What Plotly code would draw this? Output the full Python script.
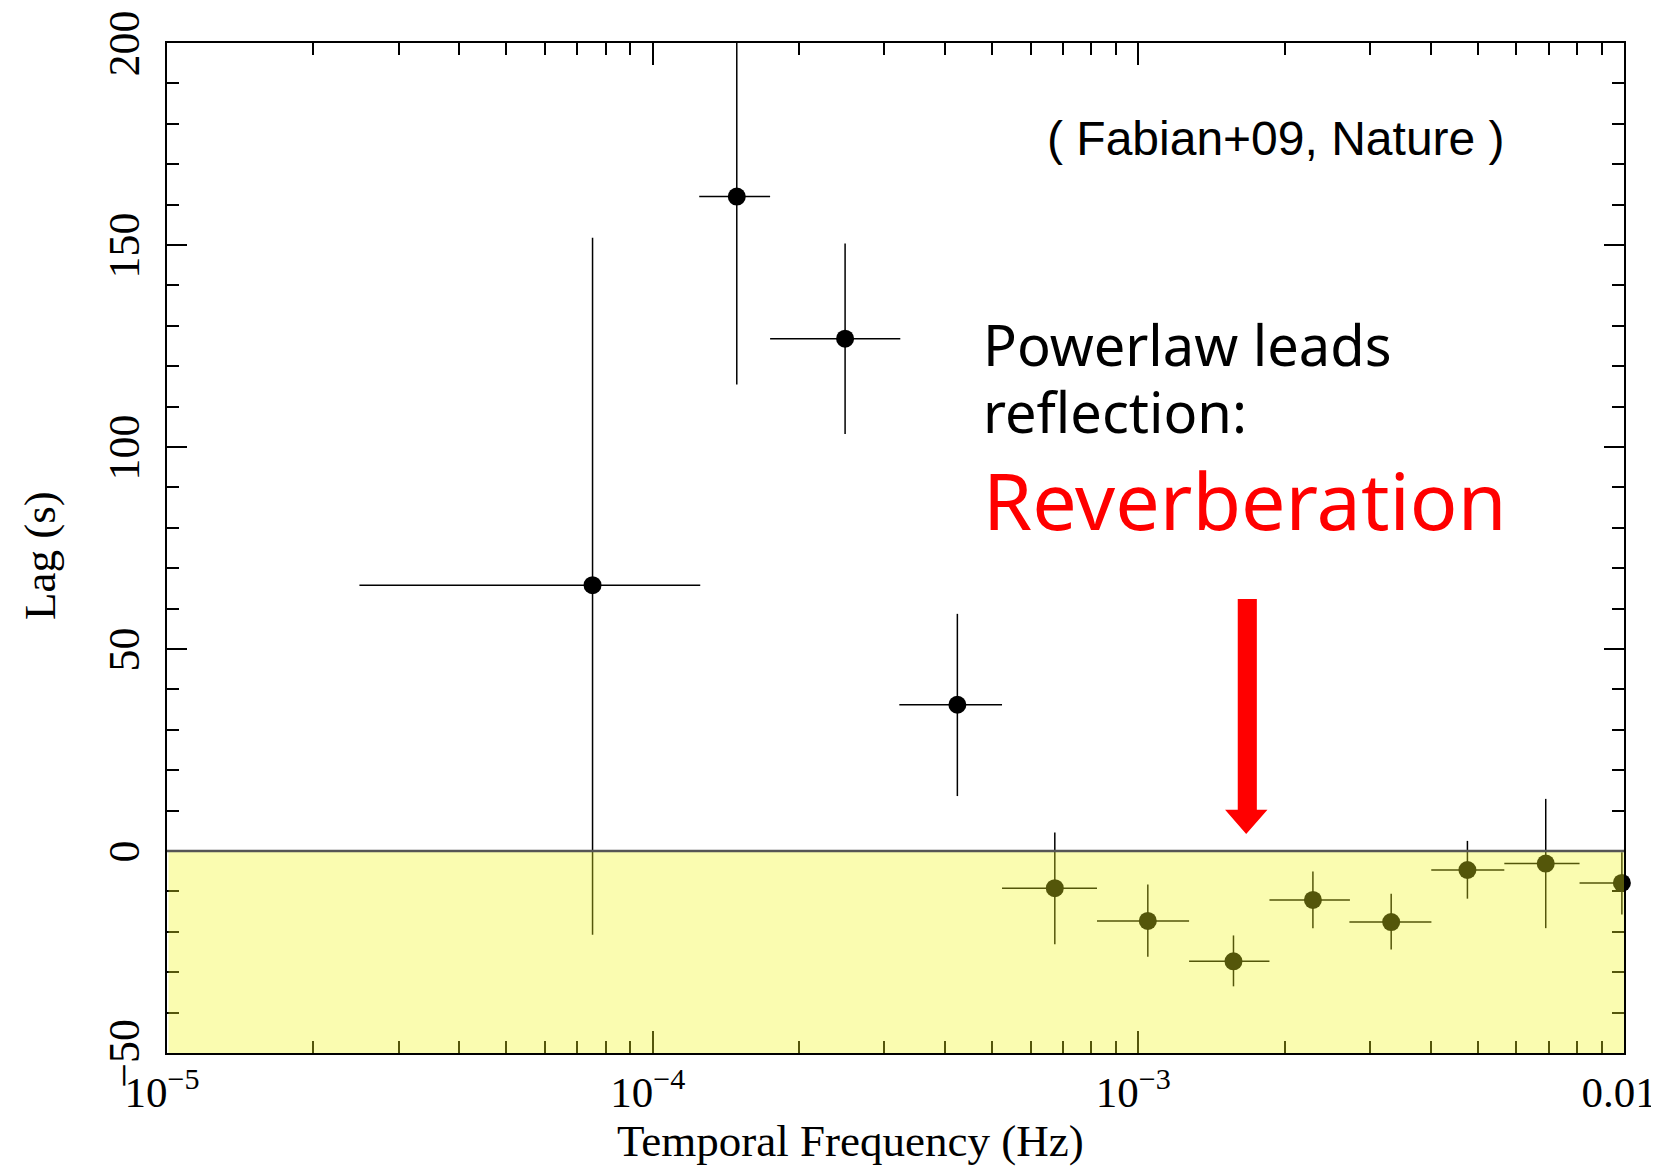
import plotly.graph_objects as go

# lag-frequency spectrum
freq = [7.52e-5, 1.49e-4, 2.49e-4, 4.24e-4, 6.73e-4, 1.046e-3, 1.57e-3,
        2.288e-3, 3.316e-3, 4.76e-3, 6.90e-3, 9.90e-3]
lag = [65.8, 162.0, 126.8, 36.2, -9.2, -17.3, -27.3, -12.1, -17.6, -4.7, -3.1, -7.9]
lag_err_plus = [86.0, 38.0, 23.6, 22.5, 13.8, 9.0, 6.4, 7.0, 7.0, 7.2, 16.0, 7.6]
lag_err_minus = [86.5, 46.5, 23.6, 22.6, 13.9, 8.9, 6.2, 7.0, 6.8, 7.1, 16.0, 7.8]
freq_lo = [2.49e-5, 1.247e-4, 1.745e-4, 3.22e-4, 5.24e-4, 8.22e-4, 1.272e-3,
           1.862e-3, 2.72e-3, 4.01e-3, 5.67e-3, 8.10e-3]
freq_hi = [1.253e-4, 1.745e-4, 3.235e-4, 5.24e-4, 8.22e-4, 1.272e-3, 1.862e-3,
           2.727e-3, 4.013e-3, 5.67e-3, 8.10e-3, 1.0e-2]

x_tickvals = [1e-5, 1e-4, 1e-3, 1e-2]
x_ticktext = ["10<sup>\u22125</sup>", "10<sup>\u22124</sup>", "10<sup>\u22123</sup>", "0.01"]
y_tickvals = [-50, 0, 50, 100, 150, 200]
y_ticktext = ["\u221250", "0", "50", "100", "150", "200"]

x_minor = [m * 10.0 ** e for e in (-5, -4, -3) for m in range(2, 10)]

serif = "Liberation Serif, Times New Roman, serif"
casual = "Comic Sans MS, Noto Sans"

fig = go.Figure()
fig.add_trace(go.Scatter(
    x=freq, y=lag, mode="markers",
    marker=dict(color="black", size=18),
    error_y=dict(type="data", symmetric=False, array=lag_err_plus,
                 arrayminus=lag_err_minus, color="black", thickness=1.5, width=0),
    error_x=dict(type="data", symmetric=False,
                 array=[h - f for h, f in zip(freq_hi, freq)],
                 arrayminus=[f - l for f, l in zip(freq, freq_lo)],
                 color="black", thickness=1.5, width=0),
    cliponaxis=False, showlegend=False,
))

# shaded negative-lag region (semi-transparent, drawn over the data)
fig.add_shape(type="rect", xref="paper", yref="y", x0=0.001, x1=1.0, y0=-52, y1=0,
              fillcolor="rgba(241,245,30,0.35)", line_width=0, layer="above")
fig.add_shape(type="line", xref="paper", yref="y", x0=0, x1=1, y0=0, y1=0,
              line=dict(color="#555555", width=2.5), layer="above")

# red arrow
fig.add_shape(type="path", xref="paper", yref="y",
              path="M 0.7349,62.4 L 0.7480,62.4 L 0.7480,10.2 L 0.7553,10.2 "
                   "L 0.7407,4.2 L 0.7262,10.2 L 0.7349,10.2 Z",
              fillcolor="#ff0000", line_width=0, layer="above")

fig.add_annotation(text="( Fabian+09, Nature )", xref="paper", yref="y",
                   x=0.761, y=176.4, showarrow=False, xanchor="center", yanchor="middle",
                   font=dict(family="Liberation Sans, Arial", size=48, color="black"))
fig.add_annotation(text="Powerlaw leads", xref="paper", yref="y",
                   x=0.5585, y=125.5, showarrow=False, xanchor="left", yanchor="middle",
                   font=dict(family=casual, size=56, color="black"))
fig.add_annotation(text="reflection:", xref="paper", yref="y",
                   x=0.5585, y=109.0, showarrow=False, xanchor="left", yanchor="middle",
                   font=dict(family=casual, size=56, color="black"))
fig.add_annotation(text="Reverberation", xref="paper", yref="y",
                   x=0.5585, y=87.0, showarrow=False, xanchor="left", yanchor="middle",
                   font=dict(family=casual, size=79, color="#ff0000"))

# axis titles
fig.add_annotation(text="Temporal Frequency (Hz)", xref="paper", yref="paper",
                   x=0.469, y=-0.087, showarrow=False, xanchor="center", yanchor="middle",
                   font=dict(family=serif, size=45, color="black"))
fig.add_annotation(text="Lag (s)", xref="paper", yref="paper", textangle=-90,
                   x=-0.0872, y=0.493, showarrow=False, xanchor="center", yanchor="middle",
                   font=dict(family=serif, size=45, color="black"))

fig.update_xaxes(type="log", range=[-5, -2], tickvals=x_tickvals, ticktext=x_ticktext,
                 ticks="inside", ticklen=22, tickwidth=1.5, tickcolor="black",
                 showline=True, linecolor="black", linewidth=2, mirror="ticks",
                 showgrid=False, zeroline=False, automargin=False,
                 ticklabeloverflow="allow", ticklabelshift=-5,
                 minor=dict(tickvals=x_minor, ticks="inside", ticklen=12,
                            tickwidth=1.5, tickcolor="black", showgrid=False),
                 tickfont=dict(family=serif, size=43, color="black"))
fig.update_yaxes(range=[-50, 200], tickvals=y_tickvals, ticktext=y_ticktext,
                 ticks="inside", ticklen=20, tickwidth=1.5, tickcolor="black",
                 showline=True, linecolor="black", linewidth=2, mirror="ticks",
                 showgrid=False, zeroline=False, tickangle=-90, ticklabelstandoff=8,
                 automargin=False, ticklabeloverflow="allow", ticklabelshift=7,
                 minor=dict(dtick=10, ticks="inside", ticklen=12,
                            tickwidth=1.5, tickcolor="black", showgrid=False),
                 tickfont=dict(family=serif, size=44, color="black"))

# page body has an 8px margin, so the figure is 16px smaller than the window
fig.update_layout(width=1651, height=1159, plot_bgcolor="white", paper_bgcolor="white",
                  margin=dict(l=159, r=35, t=35, b=114))
fig.write_html("out.html")
